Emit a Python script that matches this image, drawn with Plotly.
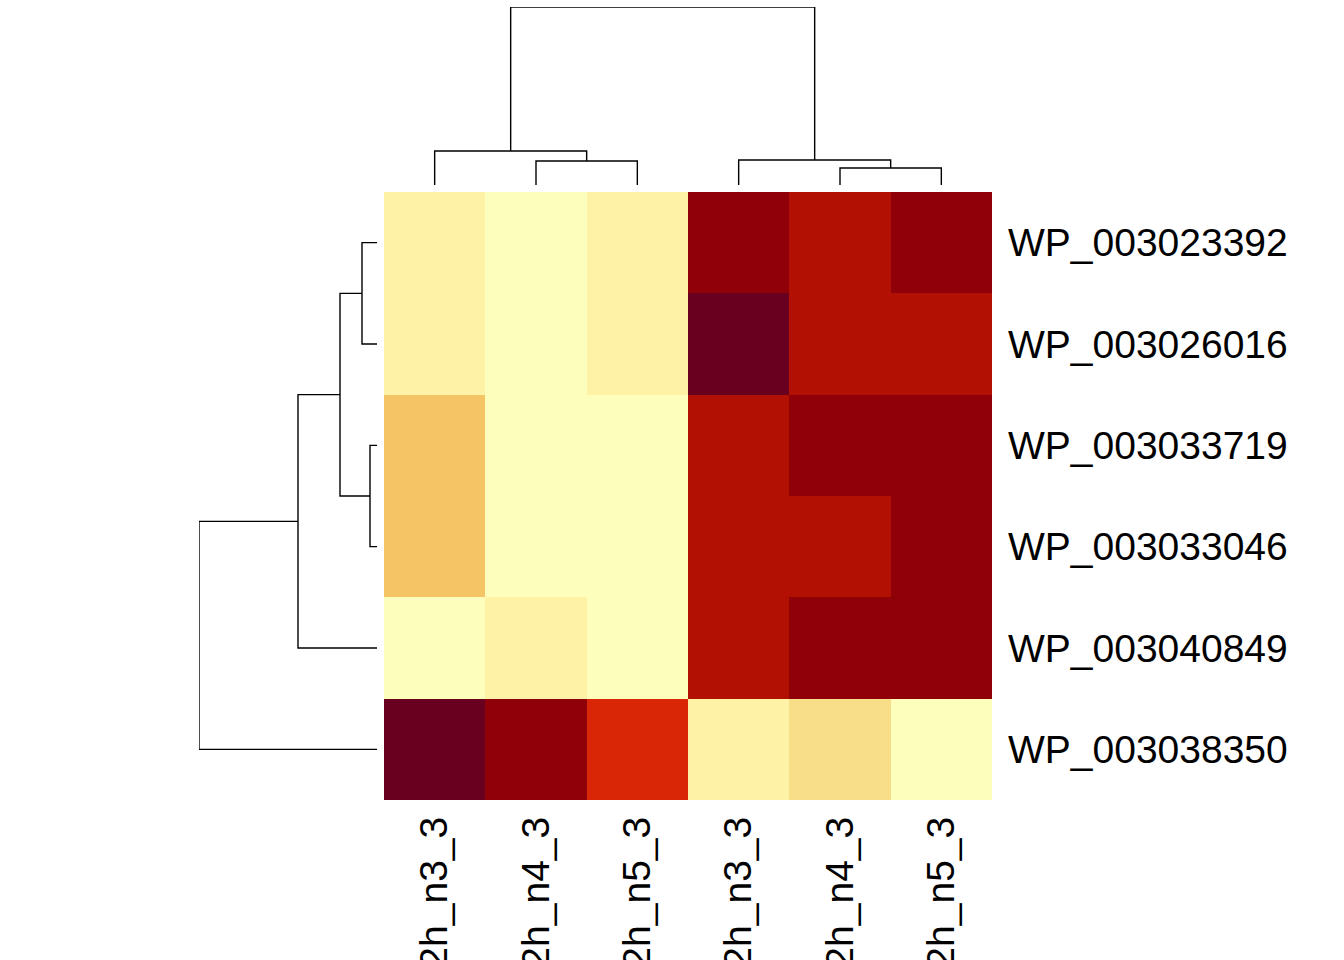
import plotly.graph_objects as go

# ---------------- data ----------------
row_labels = ["WP_003023392", "WP_003026016", "WP_003033719",
              "WP_003033046", "WP_003040849", "WP_003038350"]
col_labels = ["2h_n3_3", "2h_n4_3", "2h_n5_3", "2h_n3_3", "2h_n4_3", "2h_n5_3"]

# colour level per cell (0 = palest yellow ... 9 = darkest red)
row1 = [1, 0, 1, 8, 7, 8]
row2 = [1, 0, 1, 9, 7, 7]
row3 = [3, 0, 0, 7, 8, 8]
row4 = [3, 0, 0, 7, 7, 8]
row5 = [0, 1, 0, 7, 8, 8]
row6 = [9, 8, 6, 1, 2, 0]

palette = ["#FEFEBC", "#FEF2A6", "#F8DE88", "#F5C565", "#F9A04A",
           "#EC6A28", "#D92606", "#B31004", "#8F0008", "#69001F"]

# column dendrogram: merges (left position, right position, height)
col_merge_left = [1, 4, 0, 3, 0.75]
col_merge_right = [2, 5, 1.5, 4.5, 3.75]
col_merge_height = [24, 17, 34, 25, 178]
col_child_left_h = [0, 0, 0, 0, 34]
col_child_right_h = [0, 0, 24, 17, 25]

# row dendrogram
row_merge_top = [0, 2, 0.5, 1.5, 2.75]
row_merge_bottom = [1, 3, 2.5, 4, 5]
row_merge_height = [15, 7, 37, 79, 178]
row_child_top_h = [0, 0, 15, 37, 79]
row_child_bottom_h = [0, 0, 7, 0, 0]

# ---------------- figure ----------------
W, H = 1344, 960
z = [row1, row2, row3, row4, row5, row6]
n = len(palette) - 1
colorscale = []
for i, c in enumerate(palette):
    colorscale.append([i / (n + 1), c])
    colorscale.append([(i + 1) / (n + 1), c])
colorscale[0][0] = 0.0
colorscale[-1][0] = 1.0

fig = go.Figure()
fig.add_trace(go.Heatmap(z=z, x=list(range(6)), y=list(range(6)),
                         colorscale=colorscale, zmin=-0.5, zmax=n + 0.5,
                         showscale=False, xaxis="x", yaxis="y", xgap=0, ygap=0))

line = dict(color="black", width=1.4)
# column dendrogram
for l, r, h, hl, hr in zip(col_merge_left, col_merge_right, col_merge_height,
                           col_child_left_h, col_child_right_h):
    fig.add_trace(go.Scatter(x=[l, l, r, r], y=[hl, h, h, hr], mode="lines",
                             line=line, xaxis="x2", yaxis="y2",
                             showlegend=False, hoverinfo="skip"))
# row dendrogram
for t, b, h, ht, hb in zip(row_merge_top, row_merge_bottom, row_merge_height,
                           row_child_top_h, row_child_bottom_h):
    fig.add_trace(go.Scatter(x=[ht, h, h, hb], y=[t, t, b, b], mode="lines",
                             line=line, xaxis="x3", yaxis="y3",
                             showlegend=False, hoverinfo="skip"))

hx = [384 / W, 992 / W]
hy = [1 - 800 / H, 1 - 192 / H]
font = dict(family="Liberation Sans, Arial, sans-serif", size=39, color="black")

fig.update_layout(
    template="none",
    width=W, height=H, margin=dict(l=0, r=0, t=0, b=0, autoexpand=False),
    plot_bgcolor="white", paper_bgcolor="white", showlegend=False,
    xaxis=dict(domain=hx, range=[-0.5, 5.5], tickvals=list(range(6)),
               ticktext=col_labels, tickangle=-90, ticks="", showgrid=False,
               zeroline=False, showline=False, tickfont=font, automargin=False,
               ticklabelstandoff=8, anchor="y"),
    yaxis=dict(domain=hy, range=[5.5, -0.5], tickvals=list(range(6)),
               ticktext=row_labels, side="right", ticks="", showgrid=False,
               zeroline=False, showline=False, tickfont=font, automargin=False,
               ticklabelstandoff=15, anchor="x"),
    xaxis2=dict(domain=hx, range=[-0.5, 5.5], visible=False, anchor="y2"),
    yaxis2=dict(domain=[1 - 185 / H, 1 - 7 / H], range=[0, 178],
                visible=False, anchor="x2"),
    xaxis3=dict(domain=[199 / W, 377 / W], range=[178, 0], visible=False,
                anchor="y3"),
    yaxis3=dict(domain=hy, range=[5.5, -0.5], visible=False, anchor="x3"),
)

fig.write_html("out.html", config={"displayModeBar": False},
               post_script="document.body.style.margin='0';")
